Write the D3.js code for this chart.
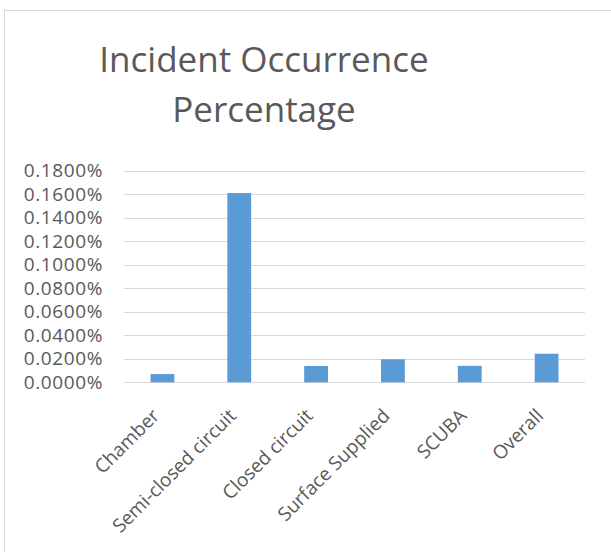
<!DOCTYPE html>
<html><head><meta charset="utf-8">
<script src="https://cdn.jsdelivr.net/npm/d3@7"></script>
<style>
html,body{margin:0;padding:0;background:#fff;}
svg{display:block;}
text{font-family:"Open Sans",sans-serif;fill:#595959;}
</style></head>
<body>
<svg id="chart" width="611" height="552"></svg>
<script>
const categories = ["Chamber","Semi-closed circuit","Closed circuit","Surface Supplied","SCUBA","Overall"];
const values = [0.0070, 0.1610, 0.0139, 0.0196, 0.0140, 0.0243]; // percent
const yTicks = [0,0.02,0.04,0.06,0.08,0.10,0.12,0.14,0.16,0.18];
const titleLines = ["Incident Occurrence","Percentage"];

const svg = d3.select("#chart");
// chart area border
svg.append("rect").attr("x",4.5).attr("y",10.5).attr("width",640).attr("height",600)
  .attr("fill","#fff").attr("stroke","#d9d9d9").attr("stroke-width",1);

const x = d3.scaleBand().domain(categories).range([124,585]).paddingInner(0.69).paddingOuter(0.345);
const y = d3.scaleLinear().domain([0,0.18]).range([382.3,170.7]);

// title
svg.append("g").selectAll("text").data(titleLines).join("text")
  .attr("x",264).attr("y",(d,i)=>72+i*50).attr("text-anchor","middle")
  .style("font-size","35px").text(d=>d);

// gridlines
svg.append("g").selectAll("line").data(yTicks).join("line")
  .attr("x1",124).attr("x2",585).attr("y1",d=>Math.round(y(d))+0.5).attr("y2",d=>Math.round(y(d))+0.5)
  .attr("stroke","#d9d9d9").attr("stroke-width",1);

// y axis labels
const yAxis = d3.axisLeft(y).tickValues(yTicks).tickSize(0).tickPadding(0)
  .tickFormat(d=>d3.format(".4f")(d)+"%");
const gy = svg.append("g").attr("transform","translate(103,0)").call(yAxis);
gy.select(".domain").remove();
gy.selectAll("text").style("font-size","19px").style("letter-spacing","0.6px").attr("fill","#595959").style("font-family","'Open Sans',sans-serif");

// bars
svg.append("g").selectAll("rect").data(values).join("rect")
  .attr("x",(d,i)=>x(categories[i])).attr("width",x.bandwidth())
  .attr("y",d=>y(d)).attr("height",d=>y(0)-y(d)).attr("fill","#5b9bd5");

// x labels
const xAxis = d3.axisBottom(x).tickSize(0).tickPadding(0);
const gx = svg.append("g").attr("transform","translate(0,382)").call(xAxis);
gx.select(".domain").remove();
gx.selectAll("text").style("font-size","19px").attr("fill","#595959").style("font-family","'Open Sans',sans-serif")
  .attr("text-anchor","end").attr("dy",null).attr("y",0)
  .attr("transform","translate(-2,35) rotate(-45)");
</script>
</body></html>
